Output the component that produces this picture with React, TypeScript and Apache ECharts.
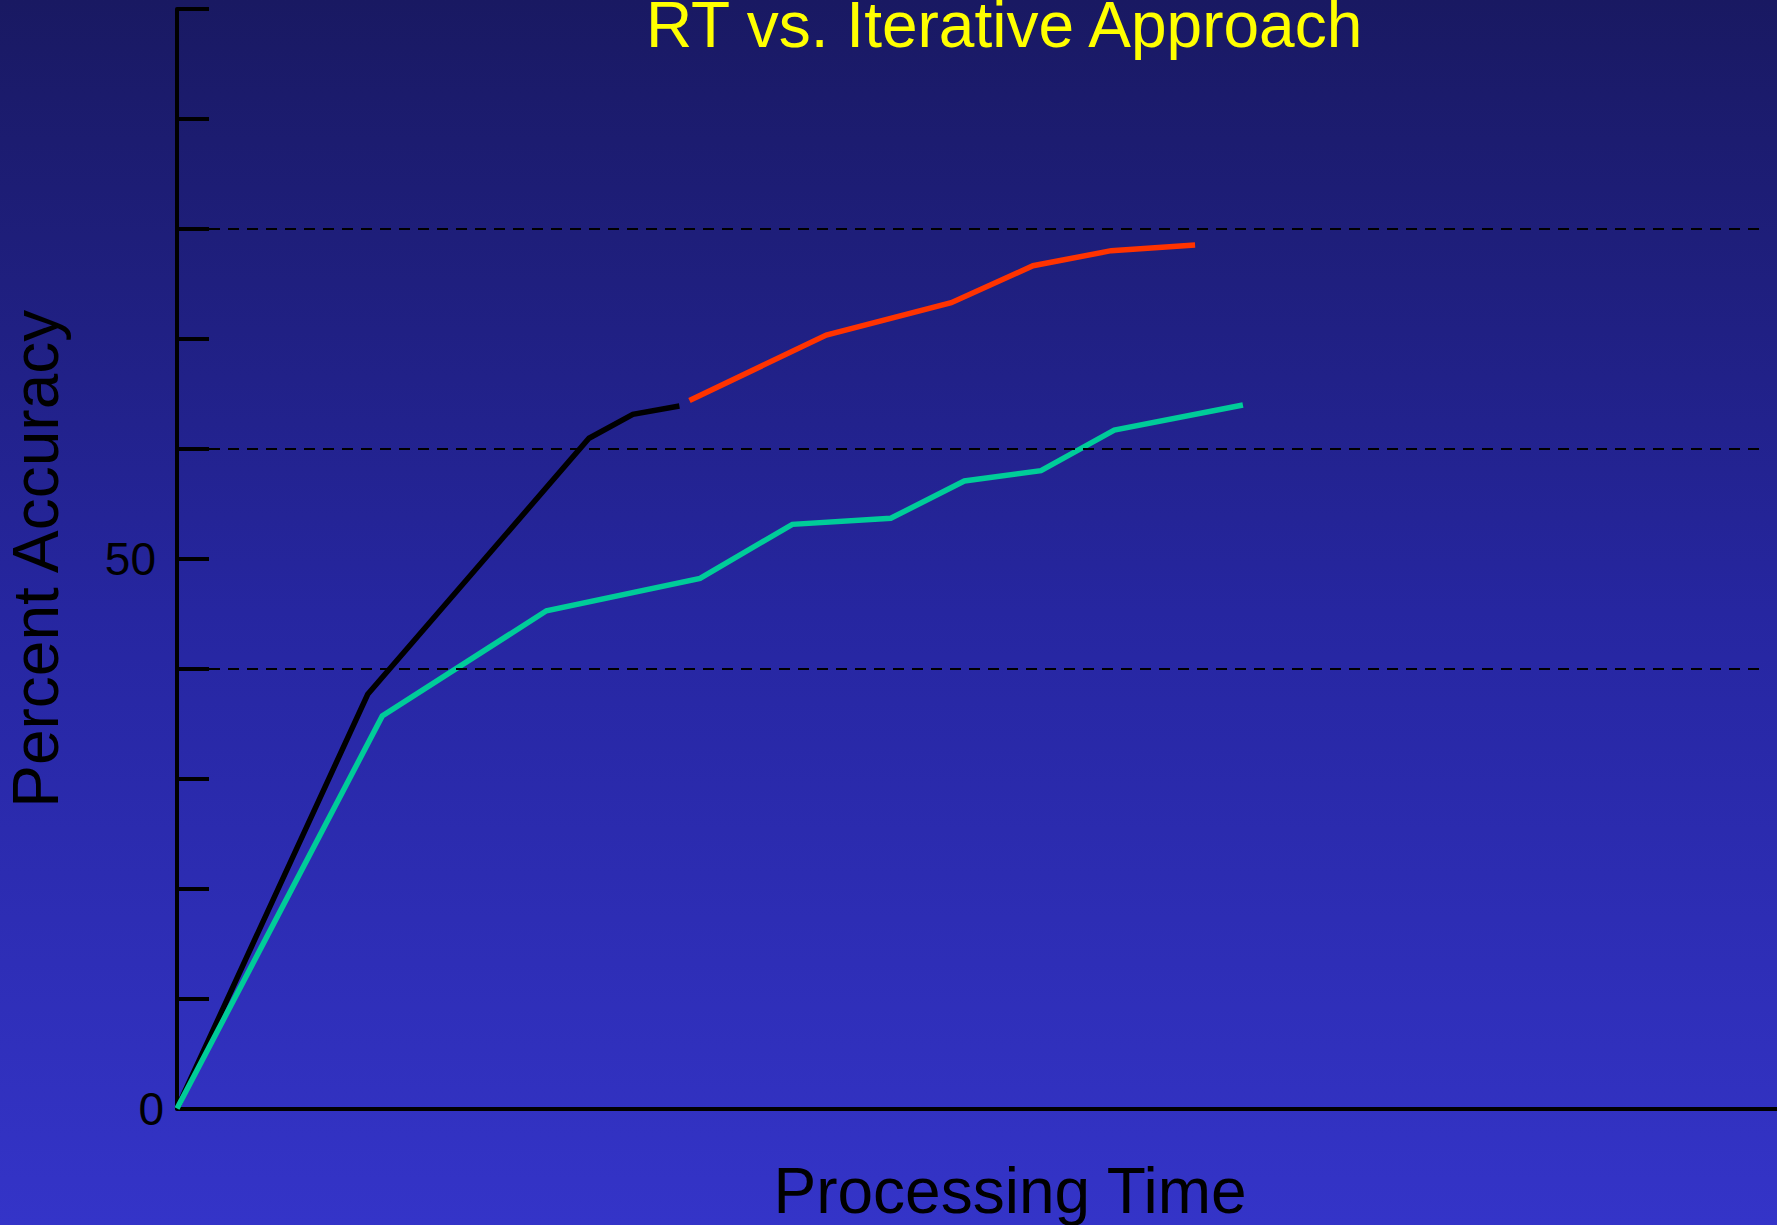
import React, { useEffect, useRef } from "react";
import * as echarts from "echarts";

// Y axis tick labels that are shown (others are blank ticks every 10)
const yLabelValues = [0, 50];
// Dashed reference levels
const gridLevels = [40, 60, 80];
// Dashed reference lines stop just short of the right edge (x-axis units)
const gridLineStart = 2;
const gridLineEnd = 99.1;

// RT approach: initial (black) phase
const rtInitial: [number, number][] = [
  [0, 0],
  [11.92, 37.67],
  [25.75, 60.96],
  [28.49, 63.14],
  [31.4, 63.89],
];
// RT approach: refinement (red) phase
const rtRefined: [number, number][] = [
  [32.03, 64.39],
  [40.58, 70.35],
  [48.39, 73.29],
  [53.5, 76.65],
  [58.39, 78.02],
  [63.63, 78.54],
];
// Iterative approach (teal)
const iterative: [number, number][] = [
  [0, 0],
  [12.83, 35.7],
  [23.09, 45.27],
  [32.69, 48.22],
  [38.46, 53.13],
  [44.61, 53.68],
  [49.21, 57.07],
  [54.0, 58.01],
  [58.58, 61.71],
  [66.62, 63.98],
];

const FONT = "'Liberation Sans', Arial, Helvetica, sans-serif";

export default function App() {
  const ref = useRef<HTMLDivElement>(null);

  useEffect(() => {
    if (!ref.current) return;
    const chart = echarts.init(ref.current, null, { renderer: "svg" });
    const option: any = {
      animation: false,
      backgroundColor: "transparent",
      title: {
        text: "RT vs. Iterative Approach",
        left: 646,
        top: -7,
        padding: 0,
        textStyle: {
          color: "#FFFF00",
          fontSize: 64,
          fontWeight: "normal",
          fontFamily: FONT,
        },
      },
      grid: {
        left: 177,
        right: 0,
        top: 9,
        bottom: 116.5,
        containLabel: false,
        outerBoundsMode: "none",
      },
      xAxis: {
        type: "value",
        min: 0,
        max: 100,
        name: "Processing Time",
        nameLocation: "middle",
        nameGap: 50,
        nameTextStyle: {
          color: "#000",
          fontSize: 64,
          fontFamily: FONT,
          padding: [0, 0, 0, 66],
        },
        axisLine: { show: true, onZero: false, lineStyle: { color: "#000", width: 4 } },
        axisTick: { show: false },
        axisLabel: { show: false },
        splitLine: { show: false },
      },
      yAxis: {
        type: "value",
        min: 0,
        max: 100,
        interval: 10,
        name: "Percent Accuracy",
        nameLocation: "middle",
        nameGap: 109,
        nameTextStyle: { color: "#000", fontSize: 64, fontFamily: FONT },
        axisLine: { show: true, lineStyle: { color: "#000", width: 4 } },
        axisTick: {
          show: true,
          inside: true,
          length: 32,
          lineStyle: { color: "#000", width: 4 },
        },
        axisLabel: {
          margin: 13,
          color: "#000",
          fontSize: 46,
          fontFamily: FONT,
          formatter: (v: number) =>
            yLabelValues.includes(v) ? (v === 50 ? "{w|" + v + "}" : String(v)) : "",
          rich: {
            w: {
              color: "#000",
              fontSize: 46,
              fontFamily: FONT,
              padding: [0, 8, 0, 0],
            },
          },
        },
        splitLine: { show: false },
      },
      series: [
        {
          name: "RT initial",
          type: "line",
          data: rtInitial,
          symbol: "none",
          lineStyle: { color: "#000000", width: 5.5, join: "miter" },
          z: 2,
          markLine: {
            silent: true,
            symbol: ["none", "none"],
            label: { show: false },
            lineStyle: { color: "#000", width: 2.2, type: [11, 8] },
            data: gridLevels.map((v) => [
              { coord: [gridLineStart, v] },
              { coord: [gridLineEnd, v] },
            ]),
            z: 10,
          },
        },
        {
          name: "RT refined",
          type: "line",
          data: rtRefined,
          symbol: "none",
          lineStyle: { color: "#FF3300", width: 5.5, join: "miter" },
          z: 3,
        },
        {
          name: "Iterative",
          type: "line",
          data: iterative,
          symbol: "none",
          lineStyle: { color: "#00CC99", width: 5.5, join: "miter" },
          z: 4,
        },
      ],
    };
    chart.setOption(option);
    return () => chart.dispose();
  }, []);

  return (
    <div
      ref={ref}
      style={{
        position: "absolute",
        left: 0,
        top: 0,
        width: 1777,
        height: 1225,
        background: "linear-gradient(to bottom, #191962 0%, #2626a0 50%, #3434c8 100%)",
      }}
    />
  );
}
